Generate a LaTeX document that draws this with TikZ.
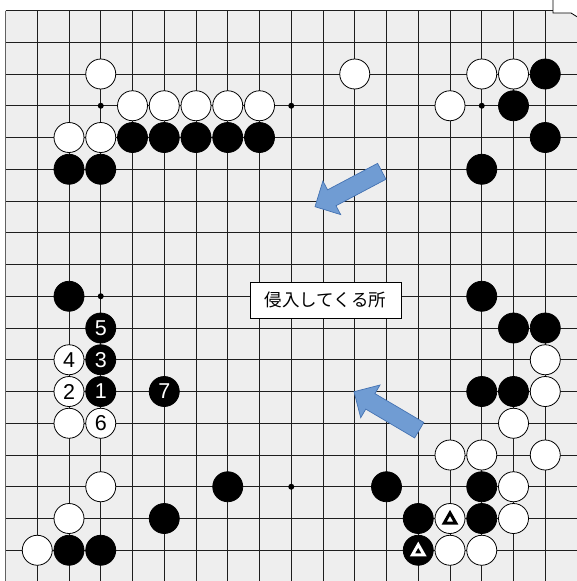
\documentclass[tikz,border=0pt]{standalone}
\usepackage{fontspec}
\setmainfont{Liberation Sans}
\newfontfamily\jpfont{Noto Sans CJK JP}
\usetikzlibrary{calc}
\definecolor{boardgray}{RGB}{238,238,238}
\definecolor{gridcol}{RGB}{30,30,30}
\definecolor{arrowfill}{RGB}{112,156,211}
\definecolor{arrowline}{RGB}{68,114,178}
\tikzset{
  stone/.style={circle, minimum size=30pt, inner sep=0pt, line width=0.8pt, draw=black, font=\fontsize{21.5}{21.5}\selectfont},
  ws/.style={stone, fill=white, text=black},
  bs/.style={stone, fill=black, text=white},
  gridline/.style={draw=gridcol, line width=1pt},
  starpt/.style={circle, fill=black, minimum size=6pt, inner sep=0pt},
  tri/.style={line width=3pt, line join=miter},
  labelbox/.style={draw=black, fill=white, line width=0.8pt, minimum width=151pt, minimum height=36pt, inner sep=0pt, font=\jpfont\fontsize{17.5}{18}\selectfont},
  blockarr/.style={fill=arrowfill, draw=arrowline, line width=0.7pt, line join=miter}
}
\newcommand{\blockarrow}[3]{%
  \coordinate (#1n) at ($(#3)!19pt!(#2)$);
  \path[blockarr] ($(#2)!9pt!90:(#3)$) -- ($(#1n)!9pt!-90:(#2)$) -- ($(#1n)!19pt!-90:(#2)$) -- (#3)
     -- ($(#1n)!19pt!90:(#2)$) -- ($(#1n)!9pt!90:(#2)$) -- ($(#2)!9pt!-90:(#3)$) -- cycle;}
\begin{document}
\begin{tikzpicture}[x=1pt,y=-1pt]
\useasboundingbox (0,0) rectangle (577,581);
\clip (0,0) rectangle (577,581);
\fill[white] (0,0) rectangle (577,581);
\fill[boardgray] (5.5,10.5) rectangle (590,590);
\begin{scope}[shift={(5.5,10.5)}, x=31.75pt, y=-31.75pt]
  % grid
  \foreach \i in {0,...,18} {
    \draw[gridline] (\i,0) -- (\i,18.5);
    \draw[gridline] (0,\i) -- (18.5,\i);
  }
  \draw[draw=gridcol!70, line width=1.8pt] (0,0) -- (0,18.5);
  % star points
  \foreach \c in {3,9,15} \foreach \r in {3,9,15}
    \node[starpt] (s\c-\r) at (\c,\r) {};
  % white stones
  \foreach \c/\r in {3/2,4/3,5/3,6/3,7/3,8/3,2/4,3/4,11/2,15/2,16/2,14/3,
      2/13,3/15,2/16,1/17,
      17/11,17/12,16/13,14/14,15/14,17/14,16/15,14/16,16/16,14/17,15/17}
    \node[ws] (w\c-\r) at (\c,\r) {};
  % black stones
  \foreach \c/\r in {4/4,5/4,6/4,7/4,8/4,2/5,3/5,17/2,16/3,17/4,15/5,
      2/9,5/16,2/17,3/17,7/15,12/15,15/9,16/10,17/10,15/12,16/12,15/15,13/16,15/16,13/17}
    \node[bs] (b\c-\r) at (\c,\r) {};
  % numbered stones
  \node[bs] (m1) at (3,12) {1};
  \node[ws] (m2) at (2,12) {2};
  \node[bs] (m3) at (3,11) {3};
  \node[ws] (m4) at (2,11) {4};
  \node[bs] (m5) at (3,10) {5};
  \node[ws] (m6) at (3,13) {6};
  \node[bs] (m7) at (5,12) {7};
\end{scope}
% triangles
\draw[tri, white] (450-5.8-31.75,518.5+4.6+31.75) -- (450+5.8-31.75,518.5+4.6+31.75) -- (450-31.75,518.5-5.6+31.75) -- cycle;
\draw[tri, black] (450-5.8,518.5+4.6) -- (450+5.8,518.5+4.6) -- (450,518.5-5.6) -- cycle;
% label
\node[labelbox] (lbl) at (325.5,300) {侵入してくる所};
% arrows
\coordinate (a1t) at (381.8,171.3);
\coordinate (a1h) at (315,206.7);
\blockarrow{a1}{a1t}{a1h}
\coordinate (a2t) at (419.2,430.2);
\coordinate (a2h) at (354,391.7);
\blockarrow{a2}{a2t}{a2h}
% top-right corner artifact
\fill[white] (553,-2) -- (553,13) -- (571,13) -- (579,18) -- (579,-2) -- cycle;
\draw[black, line width=0.8pt] (553,-2) -- (553,13) -- (571,13) -- (579,18);
\end{tikzpicture}
\end{document}
